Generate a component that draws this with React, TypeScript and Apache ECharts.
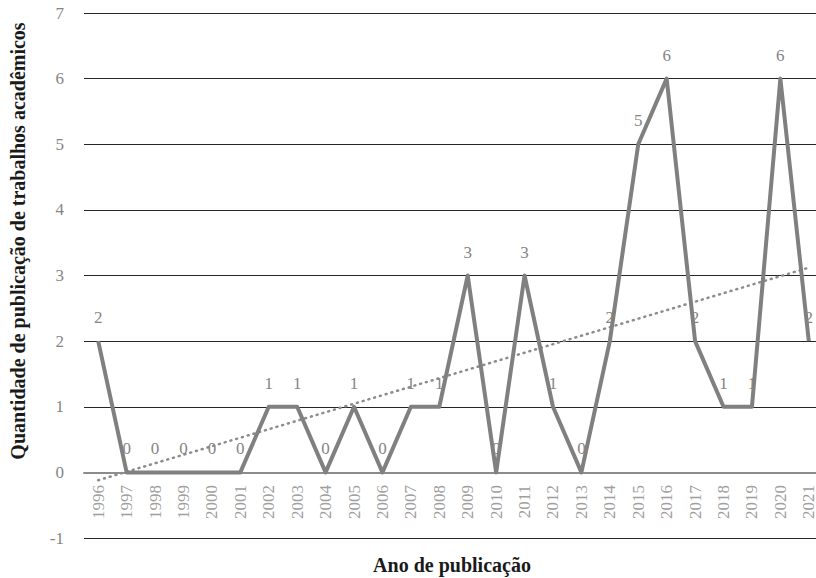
import React, { useEffect, useRef } from "react";
import * as echarts from "echarts";

const years = ["1996","1997","1998","1999","2000","2001","2002","2003","2004","2005","2006","2007","2008","2009","2010","2011","2012","2013","2014","2015","2016","2017","2018","2019","2020","2021"];
const counts = [2,0,0,0,0,0,1,1,0,1,0,1,1,3,0,3,1,0,2,5,6,2,1,1,6,2];
const yTicks = [-1, 7, 1];
const yTitle = "Quantidade de publicação de trabalhos acadêmicos";
const xTitle = "Ano de publicação";

function linearTrend(vals: number[]): number[] {
  const n = vals.length;
  const xs = vals.map((_, i) => i + 1);
  const mx = xs.reduce((a, b) => a + b, 0) / n;
  const my = vals.reduce((a, b) => a + b, 0) / n;
  let sxy = 0, sxx = 0;
  for (let i = 0; i < n; i++) {
    sxy += (xs[i] - mx) * (vals[i] - my);
    sxx += (xs[i] - mx) * (xs[i] - mx);
  }
  const b = sxy / sxx;
  const a = my - b * mx;
  return xs.map((x) => a + b * x);
}

const TITLE_FONT = "Liberation Serif";
const NUM_FONT = "Liberation Serif";
const GRAY = "#858585";

export default function App() {
  const ref = useRef<HTMLDivElement>(null);
  useEffect(() => {
    if (!ref.current) return;
    const chart = echarts.init(ref.current, null, { renderer: "svg" });
    const trend = linearTrend(counts);
    chart.setOption({
      animation: false,
      textStyle: { fontFamily: NUM_FONT },
      grid: { left: 84, right: 0, top: 13, bottom: 40, containLabel: false },
      xAxis: {
        type: "category",
        data: years,
        boundaryGap: true,
        axisLine: { show: true, onZero: true, lineStyle: { color: "#8c8c8c", width: 2 } },
        axisTick: { show: false },
        axisLabel: { show: false },
        splitLine: { show: false },
      },
      yAxis: {
        type: "value",
        min: yTicks[0],
        max: yTicks[1],
        interval: yTicks[2],
        axisLine: { show: false },
        axisTick: { show: false },
        axisLabel: { color: GRAY, fontSize: 17, fontFamily: NUM_FONT, margin: 20 },
        splitLine: { show: true, lineStyle: { color: "#262626", width: 1 } },
      },
      graphic: [
        {
          type: "text",
          x: 18,
          y: 241,
          rotation: Math.PI / 2,
          style: {
            text: yTitle,
            font: `bold 20px "${TITLE_FONT}"`,
            fill: "#1a1a1a",
            align: "center",
            verticalAlign: "middle",
          },
        },
        {
          type: "text",
          x: 452,
          y: 565,
          style: {
            text: xTitle,
            font: `bold 20px "${TITLE_FONT}"`,
            fill: "#1a1a1a",
            align: "center",
            verticalAlign: "middle",
          },
        },
      ],
      series: [
        {
          type: "line",
          data: counts,
          symbol: "circle",
          symbolSize: 2,
          showSymbol: true,
          itemStyle: { color: "rgba(0,0,0,0)" },
          lineStyle: { color: "#808080", width: 4, join: "round" },
          label: {
            show: true,
            position: "top",
            distance: 14,
            color: GRAY,
            fontSize: 17,
            fontFamily: NUM_FONT,
          },
          labelLayout: { hideOverlap: false },
          z: 3,
        },
        {
          type: "line",
          data: trend,
          symbol: "none",
          silent: true,
          lineStyle: { color: "#8c8c8c", width: 2.5, type: [1, 5], cap: "round" },
          z: 2,
        },
        {
          type: "scatter",
          data: years.map((y) => [y, 0]),
          symbol: "circle",
          symbolSize: 1,
          itemStyle: { color: "rgba(0,0,0,0)" },
          silent: true,
          label: {
            show: true,
            position: "bottom",
            distance: 12,
            rotate: 90,
            align: "right",
            verticalAlign: "middle",
            lineHeight: 13,
            color: GRAY,
            fontSize: 17,
            fontFamily: NUM_FONT,
            formatter: (p: any) => p.value[0],
          },
          z: 1,
        },
      ],
    });
    return () => chart.dispose();
  }, []);
  return (
    <div style={{ position: "fixed", left: 0, top: 0, width: 816, height: 578, overflow: "hidden", background: "#fff" }}>
      <div ref={ref} style={{ width: 823, height: 578 }} />
    </div>
  );
}
